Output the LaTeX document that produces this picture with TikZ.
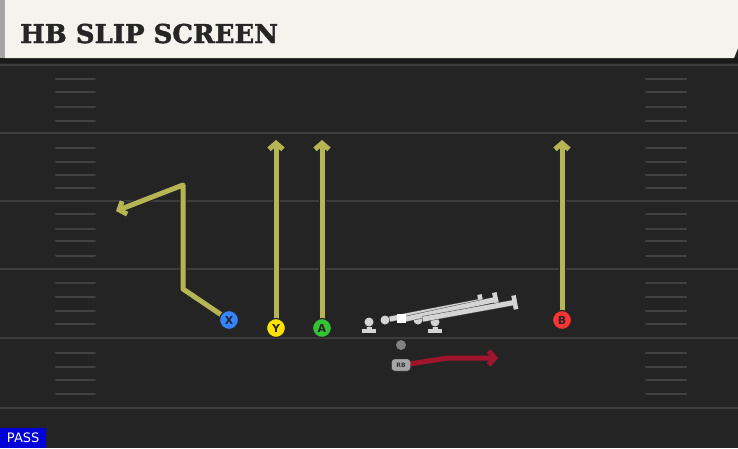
\documentclass[tikz,border=0pt]{standalone}
\usepackage{fontspec}
\usetikzlibrary{arrows.meta}
\newfontfamily\titlefont[BoldFeatures={FakeBold=1.6}]{DejaVu Serif}
\newfontfamily\labelfont{DejaVu Sans}

\begin{document}
\begin{tikzpicture}[x=1pt,y=-1pt,
  yardline/.style={draw=cyard,line width=2pt},
  hash/.style={draw=chash,line width=2pt,line cap=round},
  route/.style={draw=croute,line width=5pt,line join=round,-{Straight Barb[length=6pt,width=14pt]},preaction={draw=black!85,line width=7pt}},
  runroute/.style={route,draw=crun},
  block/.style={draw=cblock,line width=5pt,-{Bar[width=14pt,line width=4.5pt]},preaction={draw=black!70,line width=6pt}},
  player/.style={circle,draw=black!85,line width=1.2pt,minimum size=19pt,inner sep=0pt,font=\labelfont\bfseries\fontsize{11}{11}\selectfont,text=black!85},
  lineman/.style={circle,fill=cblock,minimum size=9pt,inner sep=0pt}]
\definecolor{cfield}{RGB}{36,36,36}       %turf
\definecolor{cyard}{RGB}{60,60,60}
\definecolor{chash}{RGB}{66,66,66}
\definecolor{cheader}{RGB}{245,243,237}
\definecolor{croute}{RGB}{182,181,83}     %pass routes
\definecolor{crun}{RGB}{160,20,45}        %rb route
\definecolor{cblock}{RGB}{212,212,212}
\useasboundingbox (0,0) rectangle (738,448);
\fill[cfield] (0,0) rectangle (738,448);
\fill[black!90] (0,58) rectangle (738,63);
% field markings
\foreach \y in {65,133,201,269,338,408}
  \draw[yardline] (0,\y) -- (738,\y);
\foreach \y in {79,92,107,121,148,162,175,188,214,229,241,256,283,297,311,324,353,367,380,394}{
  \draw[hash] (56,\y) -- (95,\y);
  \draw[hash] (646,\y) -- (686,\y);
}
% header
\fill[cheader] (5,0) -- (738,0) -- (738,48) -- (734,58) -- (5,58) -- cycle;
\fill[black!35] (0,0) rectangle (5,58);
\node[anchor=base west,inner sep=0pt,font=\titlefont\bfseries\fontsize{26}{26}\selectfont,text=black!85] (title) at (20,43) {HB SLIP SCREEN};
\node[anchor=south west,fill=blue!85!black,text=white,inner sep=0pt,minimum width=46pt,minimum height=20pt,font=\labelfont\fontsize{13}{13}\selectfont] (pass) at (0,448) {PASS};
% receivers
\coordinate (xcut) at (183,289);
\coordinate (xtop) at (183,185);
\coordinate (xend) at (116,211);
\coordinate (yend) at (276,140);
\coordinate (aend) at (322,140);
\coordinate (bend) at (562,140);
\draw[route] (229,320) -- (xcut) -- (xtop) -- (xend);
\draw[route] (276,328) -- (yend);
\draw[route] (322,328) -- (aend);
\draw[route] (562,320) -- (bend);
\node[player,fill=blue!60!cyan!80!white] (x) at (229,320) {X};
\node[player,fill=yellow!85!orange] (y) at (276,328) {Y};
\node[player,fill=green!70!black!80!white] (a) at (322,328) {A};
\node[player,fill=red!80!white] (b) at (562,320) {B};
% offensive line
\node[lineman] (lt) at (369,322) {};
\node[lineman] (lg) at (385,320) {};
\node[lineman] (rg) at (418,320) {};
\node[lineman] (rt) at (435,322) {};
\coordinate (ltend) at (369,333);
\coordinate (rtend) at (435,333);
\coordinate (lgend) at (483,301);
\coordinate (cend) at (498,299);
\coordinate (rgend) at (517,302);
\draw[block] (lt) -- (ltend);
\draw[block] (rt) -- (rtend);
\draw[block] (lg) -- (lgend);
\draw[block] (401,320) -- (cend);
\draw[block] (rg) -- (rgend);
\node[fill=white,minimum size=9pt,inner sep=0pt] (c) at (401,318) {};
% backfield
\node[circle,fill=black!50,minimum size=10pt,inner sep=0pt] (qb) at (401,345) {};
\coordinate (rbturn) at (448,358);
\coordinate (rbend) at (498,358);
\draw[runroute] (409,364) -- (rbturn) -- (rbend);
\node[draw=black!85,fill=black!35,rounded corners=3pt,minimum width=19pt,minimum height=12pt,inner sep=0pt,font=\labelfont\bfseries\fontsize{6}{6}\selectfont,text=black!80] (rb) at (401,365) {RB};
\end{tikzpicture}
\end{document}
